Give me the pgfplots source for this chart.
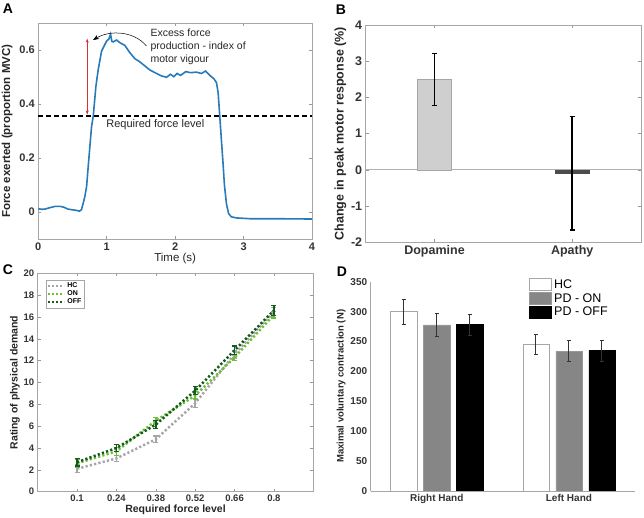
\documentclass[border=0pt]{standalone}
\usepackage{fontspec}
\setmainfont{Liberation Sans}
\usepackage{pgfplots}
\pgfplotsset{compat=1.18}
\usetikzlibrary{arrows.meta}
\definecolor{mblue}{HTML}{2A7AB8}
\definecolor{hcgray}{HTML}{A6A6A6}
\definecolor{ongreen}{HTML}{6DBE3A}
\definecolor{offgreen}{HTML}{145A1E}
\pgfplotsset{
  mstyle/.style={scale only axis, anchor=south west,
    axis line style={gray!70, line width=0.7pt},
    tick style={gray!80, line width=0.5pt},
    tick align=inside, major tick length=3pt,
    /pgf/number format/assume math mode=true,
    ticklabel style={font=\bfseries\fontsize{11}{12}\selectfont, text=black!80},
    label style={font=\bfseries\fontsize{11.5}{13}\selectfont, text=black!85},
  },
  dbar/.style={ybar, bar width=26.3pt, bar shift=0pt,
    error bars/y dir=both, error bars/y explicit,
    error bars/error bar style={black!80, line width=1pt},
    error bars/error mark options={black!80, line width=0.8pt, mark size=2.2pt, rotate=90}},
}
\begin{document}
\begin{tikzpicture}[x=1pt,y=1pt]
\path[use as bounding box] (0,0) rectangle (644,518);
% panel letters
\node[font=\bfseries\fontsize{14}{14}\selectfont] at (8,509) {A};
\node[font=\bfseries\fontsize{14}{14}\selectfont] at (341,508) {B};
\node[font=\bfseries\fontsize{14}{14}\selectfont] at (8,248) {C};
\node[font=\bfseries\fontsize{14}{14}\selectfont] at (342,246) {D};

% ---------------- Panel A
\begin{axis}[mstyle, at={(38.3pt,279pt)}, width=273.7pt, height=216pt,
  xmin=0, xmax=4, ymin=-0.1, ymax=0.7,
  xtick={0,1,2,3,4}, ytick={0,0.2,0.4,0.6},
  xlabel={\mdseries Time (s)}, ylabel={Force exerted (proportion MVC)},
  xlabel style={yshift=4pt},
  clip=false]
\addplot[mblue, line width=1.6pt] coordinates {
(0,0.012)(0.05,0.010)(0.1,0.011)(0.17,0.016)(0.25,0.021)(0.32,0.021)(0.38,0.017)
(0.43,0.011)(0.5,0.008)(0.56,0.006)(0.6,0.003)(0.63,0.008)(0.657,0.033)(0.681,0.058)
(0.706,0.095)(0.73,0.17)(0.754,0.244)(0.779,0.318)(0.803,0.355)(0.842,0.466)
(0.876,0.528)(0.925,0.596)(0.998,0.633)(1.03,0.640)(1.056,0.658)(1.075,0.632)(1.095,0.630)
(1.144,0.637)(1.192,0.627)(1.265,0.617)(1.338,0.590)(1.411,0.568)(1.484,0.556)
(1.557,0.541)(1.630,0.526)(1.728,0.513)(1.801,0.504)(1.874,0.499)(1.932,0.510)
(1.981,0.501)(2.029,0.513)(2.078,0.506)(2.156,0.520)(2.224,0.516)(2.312,0.518)
(2.385,0.513)(2.443,0.522)(2.506,0.506)(2.565,0.494)(2.604,0.479)(2.628,0.442)
(2.652,0.355)(2.675,0.27)(2.70,0.18)(2.72,0.10)(2.75,0.03)(2.78,-0.005)(2.82,-0.018)
(2.9,-0.022)(3.1,-0.025)(3.5,-0.025)(4,-0.026)};
\addplot[black, line width=1.4pt, dash pattern=on 5pt off 3pt] coordinates {(0,0.355)(4,0.355)};
\draw[red!80!black!80, line width=0.5pt, {Stealth[length=4pt]}-{Stealth[length=4pt]}] (axis cs:0.715,0.642) -- (axis cs:0.715,0.361);
\draw[black, line width=0.5pt, -{Stealth[length=6pt]}] (axis cs:1.58,0.615) .. controls (axis cs:1.4,0.67) and (axis cs:1.05,0.675) .. (axis cs:0.8,0.637);
\node[anchor=west, align=left, font=\fontsize{10.5}{12.6}\selectfont, text=black!85] at (axis cs:1.59,0.612) {Excess force\\production - index of\\motor vigour};
\node[font=\fontsize{11}{12}\selectfont, text=black!85] at (axis cs:1.71,0.322) {Required force level};
\end{axis}

% ---------------- Panel B
\begin{axis}[mstyle, at={(365.7pt,276pt)}, width=275.3pt, height=216.7pt,
  xmin=0.5, xmax=2.5, ymin=-2, ymax=4,
  xtick={1,2}, xticklabels={Dopamine,Apathy}, ytick={-2,-1,0,1,2,3,4},
  ticklabel style={font=\bfseries\fontsize{12.5}{13}\selectfont},
  label style={font=\bfseries\fontsize{12.5}{13}\selectfont},
  ylabel={Change in peak motor response (\%)},
  ylabel style={yshift=-2pt}]
\addplot[gray!60, line width=0.6pt, forget plot] coordinates {(0.5,0)(2.5,0)};
\addplot[ybar, bar width=34pt, bar shift=0pt, fill=gray!38, draw=gray!70,
  error bars/.cd, y dir=both, y explicit,
  error bar style={black, line width=1.5pt},
  error mark options={black, line width=1.2pt, mark size=2.5pt, rotate=90}]
  coordinates {(1,2.5) += (0,0.73) -= (0,0.72)};
\addplot[ybar, bar width=34pt, bar shift=0pt, fill=black!70, draw=black!70,
  error bars/.cd, y dir=both, y explicit,
  error bar style={black, line width=1.5pt},
  error mark options={black, line width=1.2pt, mark size=2.5pt, rotate=90}]
  coordinates {(2,-0.09) += (0,1.56) -= (0,1.58)};
\end{axis}

% ---------------- Panel C
\begin{axis}[mstyle, at={(37.7pt,26.3pt)}, width=275.6pt, height=218.4pt,
  xmin=0, xmax=7, ymin=0, ymax=20,
  xtick={1,2,3,4,5,6}, xticklabels={0.1,0.24,0.38,0.52,0.66,0.8},
  ytick={0,2,4,6,8,10,12,14,16,18,20},
  ticklabel style={font=\bfseries\fontsize{9.5}{10}\selectfont},
  label style={font=\bfseries\fontsize{10.5}{12}\selectfont},
  xlabel={Required force level}, ylabel={Rating of physical demand},
  xlabel style={yshift=4pt}, ylabel style={yshift=-3pt},
  legend style={at={(0.03,0.97)}, anchor=north west, draw=gray!70,
    font=\bfseries\fontsize{7}{8}\selectfont, inner sep=1pt, row sep=-2.5pt,
    legend cell align=left},
  legend image code/.code={\draw[#1, line width=2.2pt, dash pattern=on 2pt off 2pt] (0pt,0pt) -- (16pt,0pt);}]
\addplot[hcgray, line width=2.5pt, dash pattern=on 2.2pt off 2.2pt,
  error bars/.cd, y dir=both, y explicit,
  error bar style={hcgray, line width=1.5pt, solid},
  error mark options={hcgray, line width=1.2pt, mark size=2.5pt, rotate=90, solid}]
  coordinates {(1,2.1) +- (0,0.35) (2,3.05) +- (0,0.3) (3,4.8) +- (0,0.3)
    (4,8.1) +- (0,0.4) (5,12.6) +- (0,0.35) (6,16.5) +- (0,0.35)};
\addlegendentry{HC}
\addplot[ongreen, line width=2.5pt, dash pattern=on 2.2pt off 2.2pt,
  error bars/.cd, y dir=both, y explicit,
  error bar style={ongreen, line width=1.5pt, solid},
  error mark options={ongreen, line width=1.2pt, mark size=2.5pt, rotate=90, solid}]
  coordinates {(1,2.6) +- (0,0.35) (2,3.7) +- (0,0.35) (3,6.5) +- (0,0.3)
    (4,8.8) +- (0,0.35) (5,12.3) +- (0,0.3) (6,16.2) +- (0,0.3)};
\addlegendentry{ON}
\addplot[offgreen, line width=2.5pt, dash pattern=on 2.2pt off 2.2pt,
  error bars/.cd, y dir=both, y explicit,
  error bar style={offgreen, line width=1.5pt, solid},
  error mark options={offgreen, line width=1.2pt, mark size=2.5pt, rotate=90, solid}]
  coordinates {(1,2.7) +- (0,0.35) (2,4.0) +- (0,0.35) (3,6.15) +- (0,0.35)
    (4,9.25) +- (0,0.35) (5,12.95) +- (0,0.4) (6,16.6) +- (0,0.45)};
\addlegendentry{OFF}
\end{axis}

% ---------------- Panel D
\begin{axis}[mstyle, at={(370.7pt,27pt)}, width=264.3pt, height=209.3pt,
  xmin=0.5, xmax=2.5, ymin=0, ymax=350,
  axis x line=bottom, axis y line=left,
  axis line style={gray!70, -}, major tick length=0pt,
  xtick={1,2}, xticklabels={Right Hand,Left Hand},
  ytick={0,50,100,150,200,250,300,350},
  ticklabel style={font=\bfseries\fontsize{10}{11}\selectfont},
  label style={font=\bfseries\fontsize{9.5}{11}\selectfont},
  ylabel={Maximal voluntary contraction (N)}, ylabel style={yshift=-2pt},
  legend style={at={(0.6,1.02)}, anchor=north west, draw=none, fill=none,
    font=\fontsize{12.5}{13}\selectfont, inner sep=0pt, row sep=-0.5pt,
    legend cell align=left},
  legend image code/.code={\draw[#1, line width=0.7pt] (0pt,-6pt) rectangle (22pt,6pt);}]
\addplot[dbar, fill=white, draw=gray!70] coordinates {(0.75,300) += (0,20) -= (0,21) (1.75,246) += (0,16) -= (0,17)};
\addlegendentry{HC}
\addplot[dbar, fill=gray!95, draw=gray!80] coordinates {(1,278) += (0,19) -= (0,19) (2,234) += (0,17) -= (0,17)};
\addlegendentry{PD - ON}
\addplot[dbar, fill=black, draw=black] coordinates {(1.25,279) += (0,17) -= (0,18) (2.25,235) += (0,17) -= (0,18)};
\addlegendentry{PD - OFF}
\end{axis}
\end{tikzpicture}
\end{document}
